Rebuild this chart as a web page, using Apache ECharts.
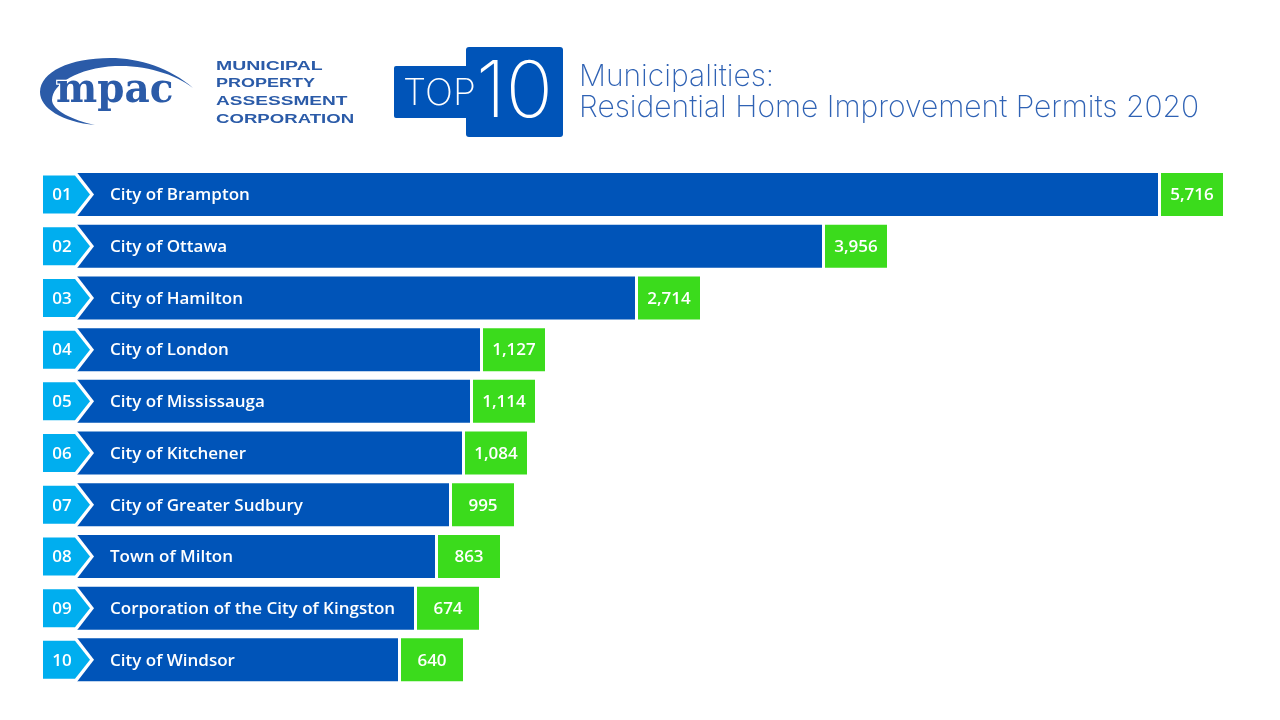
<!DOCTYPE html>
<html><head><meta charset="utf-8">
<style>html,body{margin:0;padding:0;background:#fff}#c{width:1280px;height:720px}</style>
<script src="https://cdn.jsdelivr.net/npm/echarts@6/dist/echarts.min.js"></script>
</head><body><div id="c"></div>
<script>
const categories = ['City of Brampton','City of Ottawa','City of Hamilton','City of London','City of Mississauga','City of Kitchener','City of Greater Sudbury','Town of Milton','Corporation of the City of Kingston','City of Windsor'];
const ranks = ['01','02','03','04','05','06','07','08','09','10'];
const permits = [5716,3956,2714,1127,1114,1084,995,863,674,640];
// The reference's bars are not proportional to their labels: these are the drawn lengths.
const drawnLength = [1081,745,558,403,393,385,372,358,337,321];
const BLUE='#0054b8', CYAN='#00aeef', GREEN='#3bdb1c', INK='#2b5ba8', TITLE='#2f62b4';
const GAP=3, BOX=62;
const fmt = n => n.toLocaleString('en-US');
const chart = echarts.init(document.getElementById('c'));
function badge(params, api){
  const i = api.value(0);
  const c = api.coord([0,i]);
  const x=c[0], y=c[1];
  return {type:'group',children:[
    {type:'polygon',shape:{points:[[x,y-22],[x+17,y],[x,y+22]]},style:{fill:'#fff'}},
    {type:'polygon',shape:{points:[[x-34,y-19],[x-2,y-19],[x+13,y],[x-2,y+19],[x-34,y+19]]},style:{fill:CYAN}},
    {type:'text',x:x-15,y:y+1,style:{text:ranks[i],fill:'#fff',font:'600 17px "Open Sans"',align:'center',verticalAlign:'middle'}}
  ]};
}
// logo swoosh outline: cubic segments flattened for a polygon
function flatten(start, segs){
  const pts=[start]; let p=start;
  segs.forEach(s=>{
    for(let k=1;k<=16;k++){
      const t=k/16,u=1-t;
      pts.push([0,1].map(d=>u*u*u*p[d]+3*u*u*t*s[0][d]+3*u*t*t*s[1][d]+t*t*t*s[2][d]));
    }
    p=s[2];
  });
  return pts;
}
const swoosh = flatten([193,88],[
  [[170,68],[140,58],[110,58]],
  [[70,58],[40,72],[40,92]],
  [[40,108],[62,122],[95,125]],
  [[72,120],[52,110],[52,100]],
  [[52,84],[78,68],[115,66]],
  [[145,65],[175,74],[193,88]]
]);
const labelFont = {color:'#fff',fontFamily:'Open Sans',fontWeight:600,fontSize:17,offset:[0,1]};
chart.setOption({
  animation:false,
  grid:{left:77,top:168.7,width:1180,height:517},
  xAxis:{type:'value',min:0,max:1180,show:false},
  yAxis:{type:'category',inverse:true,data:categories,show:false},
  series:[
    {type:'bar',stack:'s',barWidth:43,data:drawnLength,itemStyle:{color:BLUE},z:2,
     label:Object.assign({show:true,position:'insideLeft',distance:33,formatter:p=>p.name},labelFont)},
    {type:'bar',stack:'s',barWidth:43,data:categories.map(()=>GAP),itemStyle:{color:'transparent'},silent:true},
    {type:'bar',stack:'s',barWidth:43,data:categories.map(()=>BOX),itemStyle:{color:GREEN},z:2,
     label:Object.assign({show:true,position:'inside',formatter:p=>fmt(permits[p.dataIndex])},labelFont)},
    {type:'custom',renderItem:badge,coordinateSystem:'cartesian2d',data:ranks.map((r,i)=>[i]),encode:{y:0},z:5}
  ],
  graphic:[
    {type:'polygon',shape:{points:swoosh},style:{fill:INK}},
    {type:'text',x:56,y:71,scaleX:0.95,style:{text:'mpac',fill:INK,stroke:'#fff',lineWidth:2.5,font:'bold 41px "DejaVu Serif"'}},
    {type:'text',x:216,y:61,scaleX:1.62,style:{text:'MUNICIPAL',fill:INK,font:'bold 12px "Liberation Sans"'}},
    {type:'text',x:216,y:78,scaleX:1.5,style:{text:'PROPERTY',fill:INK,font:'bold 12px "Liberation Sans"'}},
    {type:'text',x:216,y:96,scaleX:1.59,style:{text:'ASSESSMENT',fill:INK,font:'bold 12px "Liberation Sans"'}},
    {type:'text',x:216,y:114,scaleX:1.55,style:{text:'CORPORATION',fill:INK,font:'bold 12px "Liberation Sans"'}},
    {type:'rect',shape:{x:394,y:66,width:80,height:52,r:2},style:{fill:BLUE}},
    {type:'rect',shape:{x:466,y:47,width:97,height:90,r:3},style:{fill:BLUE}},
    {type:'text',x:403,y:75,style:{text:'TOP',fill:'#fff',font:'200 37px Inter'}},
    {type:'text',x:476,y:55,style:{text:'10',fill:'#fff',font:'200 78px Inter'}},
    {type:'text',x:579,y:62,style:{text:'Municipalities:',fill:TITLE,font:'200 30px Inter'}},
    {type:'text',x:579,y:93,style:{text:'Residential Home Improvement Permits 2020',fill:TITLE,font:'200 30px Inter'}}
  ]
});
</script></body></html>
